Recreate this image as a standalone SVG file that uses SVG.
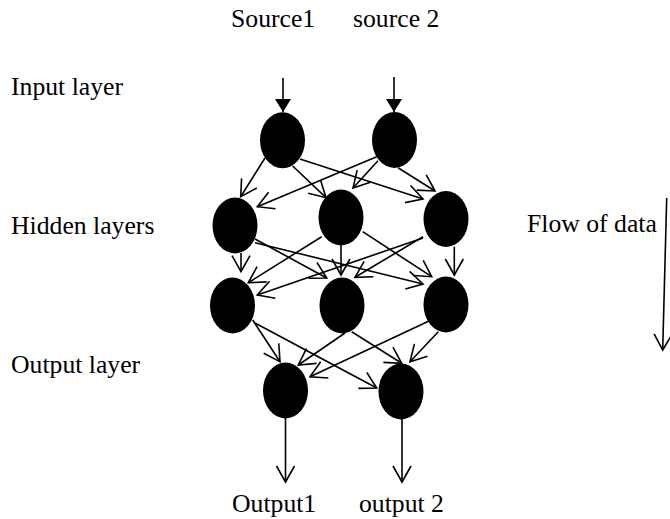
<svg xmlns="http://www.w3.org/2000/svg" width="670" height="519" viewBox="0 0 670 519">
<style>
text{font-family:"Liberation Serif","Times New Roman",serif;font-size:25.7px;fill:#000}
.node{fill:#000}
.e{stroke:#000;stroke-width:1.6;fill:none;marker-end:url(#open)}
.in{stroke:#000;stroke-width:1.6;fill:none;marker-end:url(#solid)}
</style>
<defs>
<marker id="open" markerUnits="userSpaceOnUse" viewBox="-20 -12 22 24" refX="0" refY="0" markerWidth="22" markerHeight="24" orient="auto" overflow="visible">
<path d="M-16,-9 L0,0 L-16,9" fill="none" stroke="#000" stroke-width="1.6"/>
</marker>
<marker id="solid" markerUnits="userSpaceOnUse" viewBox="-15 -9 16 18" refX="0" refY="0" markerWidth="16" markerHeight="18" orient="auto" overflow="visible">
<path d="M-13,-8 L0,0 L-13,8 Z" fill="#000"/>
</marker>
</defs>
<rect width="670" height="519" fill="#fff"/>
<g id="labels">
<text x="231" y="27">Source1</text>
<text x="353" y="27">source 2</text>
<text x="11" y="95">Input layer</text>
<text x="11" y="234">Hidden layers</text>
<text x="527" y="232">Flow of data</text>
<text x="11" y="373">Output layer</text>
<text x="232" y="512">Output1</text>
<text x="359" y="512">output 2</text>
</g>
<g id="connectors">
<line class="in" x1="283" y1="78" x2="283" y2="112"/>
<line class="in" x1="394" y1="77" x2="394" y2="112"/>
<line class="e" x1="265" y1="158" x2="240.7" y2="196.7"/>
<line class="e" x1="292.7" y1="166" x2="326" y2="197.7"/>
<line class="e" x1="300" y1="159" x2="423" y2="199"/>
<line class="e" x1="376.7" y1="156.7" x2="257.3" y2="206.7"/>
<line class="e" x1="378" y1="160.7" x2="353" y2="188"/>
<line class="e" x1="398" y1="167.7" x2="435" y2="191"/>
<line class="e" x1="241" y1="253" x2="241" y2="271.7"/>
<line class="e" x1="255" y1="239" x2="326.7" y2="278"/>
<line class="e" x1="255" y1="242.7" x2="423" y2="284"/>
<line class="e" x1="321.7" y1="236.7" x2="248.3" y2="282.7"/>
<line class="e" x1="341" y1="245" x2="341" y2="275"/>
<line class="e" x1="362.7" y1="231.7" x2="431.7" y2="276.7"/>
<line class="e" x1="423" y1="238" x2="257.3" y2="295"/>
<line class="e" x1="423" y1="236.7" x2="355" y2="277.3"/>
<line class="e" x1="454.3" y1="246.7" x2="454.3" y2="275"/>
<line class="e" x1="252.7" y1="320" x2="280" y2="361.7"/>
<line class="e" x1="255" y1="323" x2="376.7" y2="388"/>
<line class="e" x1="345" y1="333" x2="298.3" y2="365"/>
<line class="e" x1="351.7" y1="331.7" x2="401.7" y2="363.3"/>
<line class="e" x1="433.3" y1="319" x2="310" y2="376.7"/>
<line class="e" x1="438.3" y1="331.7" x2="410" y2="361.7"/>
<line class="e" x1="285.5" y1="418" x2="285.5" y2="482"/>
<line class="e" x1="402" y1="419" x2="402" y2="482"/>
<line class="e" x1="666.7" y1="198" x2="662.7" y2="350"/>
</g>
<g id="in1"><ellipse class="node" cx="282.5" cy="140.3" rx="22.5" ry="28"/></g>
<g id="in2"><ellipse class="node" cx="394.5" cy="140" rx="22.5" ry="28"/></g>
<g id="h1a"><ellipse class="node" cx="235" cy="225.5" rx="22.5" ry="28"/></g>
<g id="h1b"><ellipse class="node" cx="341" cy="217.5" rx="22.5" ry="28"/></g>
<g id="h1c"><ellipse class="node" cx="446" cy="219" rx="22.5" ry="28"/></g>
<g id="h2a"><ellipse class="node" cx="232.5" cy="305.5" rx="22.5" ry="28"/></g>
<g id="h2b"><ellipse class="node" cx="342" cy="305.5" rx="22.5" ry="28"/></g>
<g id="h2c"><ellipse class="node" cx="446" cy="304.5" rx="22.5" ry="28"/></g>
<g id="o1"><ellipse class="node" cx="285.5" cy="390.5" rx="22.5" ry="28"/></g>
<g id="o2"><ellipse class="node" cx="401" cy="391.5" rx="22.5" ry="28"/></g>
</svg>
